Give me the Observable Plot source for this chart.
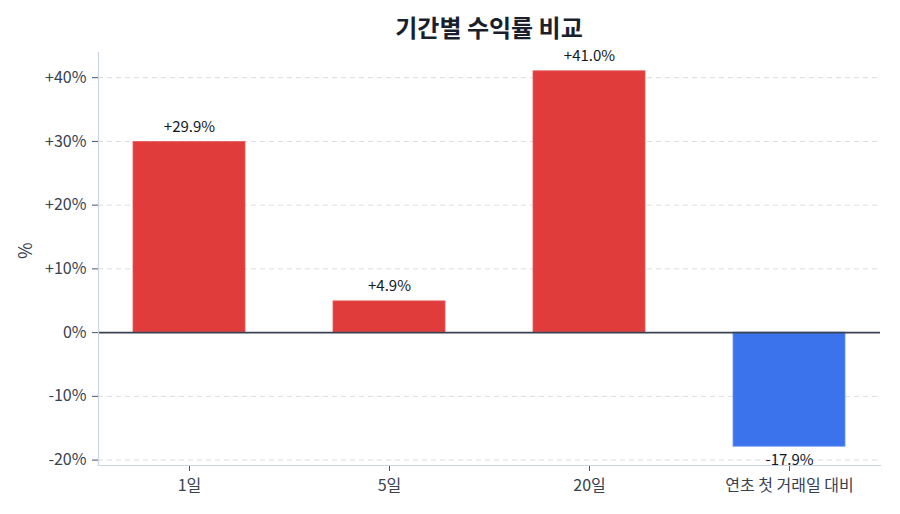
<!DOCTYPE html>
<html>
<head>
<meta charset="utf-8">
<script src="https://cdn.jsdelivr.net/npm/d3@7"></script>
<script src="https://cdn.jsdelivr.net/npm/@observablehq/plot@0.6"></script>
<style>
  html, body { margin: 0; padding: 0; background: #fff; }
  body { width: 900px; height: 514px; overflow: hidden; font-family: "Noto Sans CJK KR", "Noto Sans", sans-serif; }
  #title { height: 44px; box-sizing: border-box; padding-left: 78px; padding-top: 9px; text-align: center; font-size: 24px; font-weight: 700; color: #1a1f2e; line-height: 36px; }
  svg { display: block; }
</style>
</head>
<body>
<div id="title">기간별 수익률 비교</div>
<div id="chart"></div>
<script>
const categories = ["1일", "5일", "20일", "연초 첫 거래일 대비"];
const returns = [29.9, 4.9, 41.0, -17.9];
const yTicks = [-20, -10, 0, 10, 20, 30, 40];

const data = categories.map((c, i) => ({ period: c, value: returns[i] }));
const fmt = v => (v > 0 ? "+" : "") + v.toFixed(1) + "%";
const tickFmt = v => (v > 0 ? "+" : "") + v + "%";

const chart = Plot.plot({
  width: 900,
  height: 470,
  marginLeft: 98,
  marginRight: 20,
  marginTop: 8,
  marginBottom: 49,
  style: { fontFamily: "'Noto Sans CJK KR', 'Noto Sans', sans-serif", fontSize: "14px", color: "#374151", background: "#fff" },
  x: { domain: categories, paddingInner: 0.44, paddingOuter: 0.175 },
  y: { domain: [-20.85, 43.95] },
  marks: [
    Plot.gridY(yTicks, { stroke: "#d9dde3", strokeOpacity: 1, strokeDasharray: "5,4", strokeWidth: 1 }),
    Plot.barY(data, { x: "period", y: "value", fill: d => d.value >= 0 ? "#e03c3c" : "#3b73ed", stroke: d => d.value >= 0 ? "#e55a5a" : "#6b95f1", strokeWidth: 0.8 }),
    Plot.ruleY([0], { stroke: "#3b4252", strokeWidth: 1.6 }),
    Plot.text(data.filter(d => d.value >= 0), { x: "period", y: "value", text: d => fmt(d.value), dy: -10, lineAnchor: "bottom", fill: "#111827", fontSize: 15 }),
    Plot.text(data.filter(d => d.value < 0), { x: "period", y: "value", text: d => fmt(d.value), dy: 8, lineAnchor: "top", fill: "#111827", fontSize: 15 }),
    Plot.axisY(yTicks, { tickFormat: tickFmt, tickSize: 6, tickPadding: 6, stroke: "#4b5563", fill: "#374151", fontSize: 16, label: null }),
    Plot.text(["%"], { text: d => d, frameAnchor: "left", dx: -72, rotate: -90, fontSize: 18, fill: "#374151" }),
    Plot.axisX({ tickSize: 6, tickPadding: 8, stroke: "#4b5563", fill: "#374151", fontSize: 16, label: null }),
    Plot.frame({ anchor: "left", stroke: "#cbd5e1", strokeWidth: 1.2 }),
    Plot.frame({ anchor: "bottom", stroke: "#cbd5e1", strokeWidth: 1.2 })
  ]
});
document.getElementById("chart").appendChild(chart);
</script>
</body>
</html>
